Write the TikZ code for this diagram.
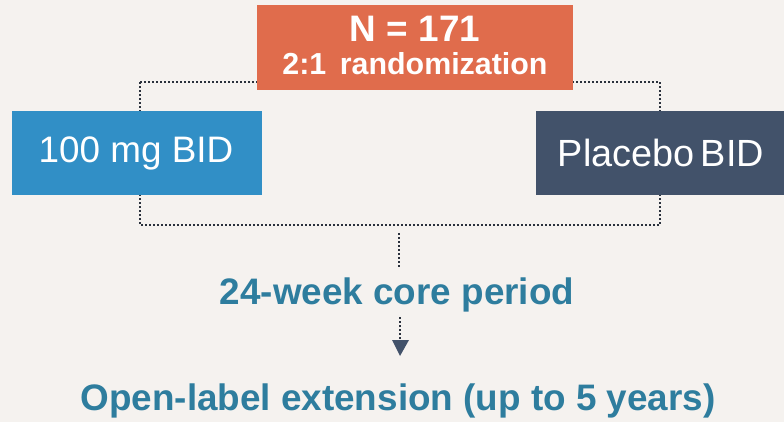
\documentclass[tikz,border=0pt]{standalone}
\usepackage{fontspec}
\setmainfont{Liberation Sans}
\usetikzlibrary{arrows.meta}
\definecolor{bg}{HTML}{F5F2EF}
\definecolor{orangebox}{HTML}{E06C4C}
\definecolor{bluebox}{HTML}{318FC6}
\definecolor{darkbox}{HTML}{42526A}
\definecolor{tealtext}{HTML}{2E7D9E}
\definecolor{dotcol}{HTML}{2A313C}
\begin{document}
\begin{tikzpicture}[x=1bp,y=-1bp,
  box/.style={inner sep=0pt,text=white,anchor=north west},
  dots/.style={draw=dotcol,line width=2.1bp,dash pattern=on 2bp off 2bp},
  steptext/.style={text=tealtext,font=\bfseries\fontsize{37}{40}\selectfont}]
\fill[bg] (0,0) rectangle (784,422);
\useasboundingbox (0,0) rectangle (784,422);
% connectors behind boxes
\coordinate (tl) at (140,82);
\coordinate (tr) at (660,82);
\coordinate (bl) at (140,225);
\coordinate (br) at (660,225);
\draw[dots] (tl) -- (tr) -- (br) -- (bl) -- cycle;
\node[box,fill=orangebox,minimum width=316bp,minimum height=85bp] (n) at (257,5) {};
\node[text=white,font=\bfseries\fontsize{37}{40}\selectfont] (nt) at (415,29) {N = 171};
\node[text=white,font=\bfseries\fontsize{30.5}{32}\selectfont] (rt) at (415,64) {2:1\, randomization};
\node[box,fill=bluebox,minimum width=250bp,minimum height=84bp] (a) at (12,111) {};
\node[text=white,font=\fontsize{37}{42}\selectfont] (at) at (136,153) {100 mg BID};
\node[box,fill=darkbox,minimum width=248bp,minimum height=84bp] (p) at (536,111) {};
\node[text=white,font=\fontsize{38}{42}\selectfont] (pt) at (661,153) {Placebo\,BID};
\node[steptext] (core) at (397,295) {24-week core period};
\node[steptext] (ole) at (398,401) {Open-label extension (up to 5 years)};
\draw[dots] (399,233) -- (399,268);
\draw[dots] (400,317) -- (400,341);
\fill[darkbox] (392,340) -- (409,340) -- (400,356) -- cycle;
\end{tikzpicture}
\end{document}
